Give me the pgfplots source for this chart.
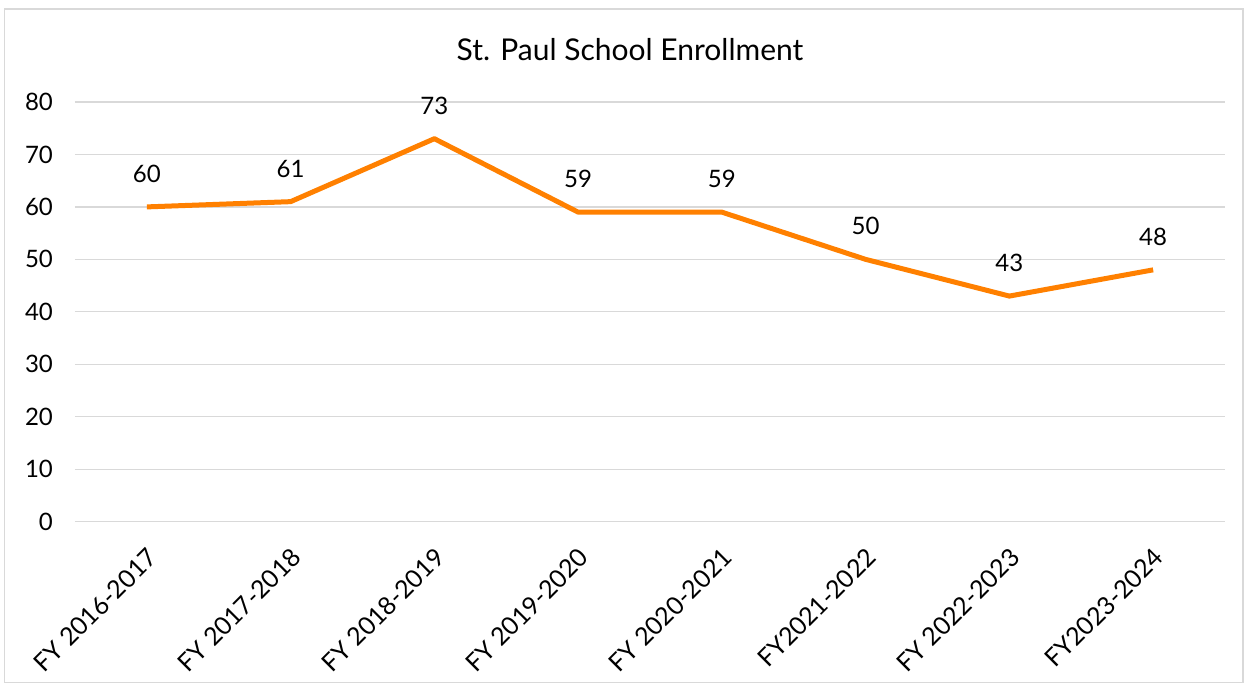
\documentclass[border=0pt]{standalone}
\usepackage{fontspec}
\setmainfont{Lato}
\usepackage{pgfplots}
\pgfplotsset{compat=1.18}
\definecolor{lineorange}{RGB}{255,128,0}
\definecolor{gridgray}{RGB}{217,217,217}
\begin{document}
\begin{tikzpicture}
\begin{axis}[
  scale only axis,
  width=575pt, height=209.85pt,
  xmin=-0.5, xmax=7.5,
  ymin=0, ymax=80,
  ytick={0,10,...,80},
  xtick={0,...,7},
  xticklabels={FY 2016-2017, FY 2017-2018, FY 2018-2019, FY 2019-2020,
               FY 2020-2021, FY2021-2022, FY 2022-2023, FY2023-2024},
  x tick label style={rotate=45, anchor=north east, font=\fontsize{12.5}{14}\selectfont, yshift=-5pt, xshift=-5.5pt},
  y tick label style={font=\fontsize{12}{14}\selectfont, xshift=-7.5pt},
  /pgf/number format/assume math mode=true,
  ymajorgrids,
  grid style={gridgray, line width=0.6pt},
  axis line style={draw=none},
  major tick length=0pt,
  clip=false,
  nodes near coords,
  every node near coord/.append style={font=\fontsize{12}{14}\selectfont, anchor=center, yshift=16.5pt, text=black},
]
\addplot[lineorange, line width=2.5pt, line join=round, mark=none] coordinates {
  (0,60) (1,61) (2,73) (3,59) (4,59) (5,50) (6,43) (7,48)};
% page size of the reference
\path (axis description cs:-0.0652,-0.3938) rectangle (axis description cs:1.0200,1.2430);
% chart frame
\draw[gridgray, line width=0.6pt] (axis description cs:-0.061,-0.383) rectangle (axis description cs:1.0157,1.2216);
\node[font=\fontsize{15}{18}\selectfont] at (axis description cs:0.4826,1.124) {St. Paul School Enrollment};
\end{axis}
\end{tikzpicture}
\end{document}
